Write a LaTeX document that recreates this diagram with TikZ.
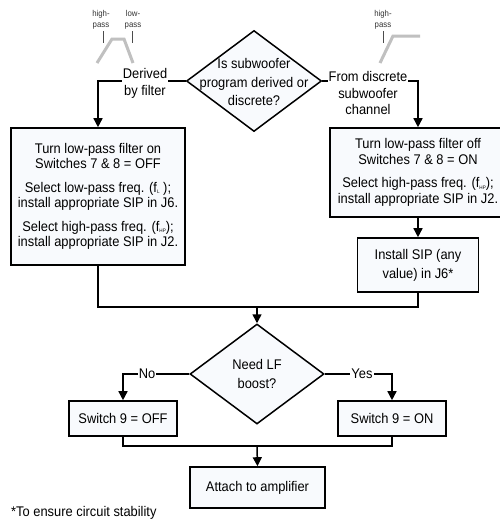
\documentclass[tikz,border=0pt]{standalone}
\usepackage{fontspec}
\setmainfont{Liberation Sans}[FakeStretch=0.92]
\usetikzlibrary{shapes.geometric,arrows.meta}
\definecolor{boxfill}{RGB}{248,250,253}
\definecolor{sketch}{RGB}{192,192,192}
\newcommand{\fsub}[1]{f\raisebox{-1.5pt}{\fontsize{5}{5}\selectfont #1}}

\begin{document}
\begin{tikzpicture}[x=1pt, y=-1pt,
    font=\fontsize{14}{15.5}\selectfont,
    process/.style={rectangle, draw, line width=1.6pt, fill=boxfill, align=center, inner sep=0pt},
    decision/.style={diamond, draw, line width=1.5pt, fill=boxfill, inner sep=0pt,
                     minimum width=135pt, minimum height=101pt},
    qtext/.style={align=center, font=\fontsize{14}{18.5}\selectfont},
    lbl/.style={fill=white, inner sep=1pt, align=center, font=\fontsize{14}{16.5}\selectfont},
    line/.style={line width=1.5pt},
    flow/.style={line width=1.5pt, -{Triangle[width=9pt,length=9pt]}},
    curve/.style={sketch, line width=3pt},
    tick/.style={black!70, line width=0.8pt},
    small/.style={align=center, text=black!80, inner sep=0pt, font=\fontsize{8.5}{11}\selectfont}
]
\fill[white] (0,0) rectangle (500,525);
\useasboundingbox (0,0) rectangle (500,525);
\clip (0,0) rectangle (500,525);

% filter response sketches
\draw[curve] (97,63) -- (112,39) -- (124,39) -- (133,63);
\draw[curve] (380,63) -- (393,36) -- (420,36);
\node[small] (hpleft) at (101,19.5) {high-\\pass};
\node[small] (lpleft) at (133,19.5) {low-\\pass};
\node[small] (hpright) at (383,19.5) {high-\\pass};
\draw[tick] (103,31) -- (103,43);
\draw[tick] (132,31) -- (132,43);
\draw[tick] (383,31) -- (383,43);

% decision on program source
\node[decision] (source) at (254,81) {};
\node[qtext] (sourcetext) at (254,82) {Is subwoofer\\program derived or\\discrete?};

\node[process, minimum width=174pt, minimum height=137pt] (lowpass) at (98,196.5)
    {Turn low-pass filter on\\Switches 7 \& 8 = OFF\\[8pt]
     Select low-pass freq. (\fsub{L} );\\install appropriate SIP in J6.\\[8pt]
     Select high-pass freq. (\fsub{HP});\\install appropriate SIP in J2.};
\node[process, minimum width=176pt, minimum height=89pt] (nolowpass) at (418,172.5)
    {Turn low-pass filter off\\Switches 7 \& 8 = ON\\[8pt]
     Select high-pass freq. (\fsub{HP});\\install appropriate SIP in J2.};
\node[process, minimum width=121pt, minimum height=54pt,
      font=\fontsize{14}{19}\selectfont] (anysip) at (418,265)
    {Install SIP (any\\value) in J6*};

\draw[flow] (source.west) -| (lowpass.north);
\draw[flow] (source.east) -| (nolowpass.north);
\draw[flow] (nolowpass.south) -- (anysip.north);
\node[lbl] (derived) at (145,83.5) {Derived\\by filter};
\node[lbl] (discrete) at (368,93) {From discrete\\subwoofer\\channel};

% merge and boost decision
\coordinate (merge) at (257,307);
\node[decision, minimum width=134pt, minimum height=100pt] (boost) at (257,374) {};
\node[qtext] (boosttext) at (257,374) {Need LF\\boost?};
\draw[line] (lowpass.south) |- (merge);
\draw[line] (anysip.south) |- (merge);
\draw[flow] (merge) -- (boost.north);

\node[process, minimum width=108pt, minimum height=35pt] (off) at (123,418.5) {Switch 9 = OFF};
\node[process, minimum width=108pt, minimum height=35pt] (on) at (392,418.5) {Switch 9 = ON};
\draw[flow] (boost.west) -| (off.north);
\draw[flow] (boost.east) -| (on.north);
\node[lbl] (no) at (147,374) {No};
\node[lbl] (yes) at (362,374) {Yes};

\coordinate (join) at (257,446);
\node[process, minimum width=135pt, minimum height=41pt] (amp) at (257.5,487.5) {Attach to amplifier};
\draw[line] (off.south) |- (join);
\draw[line] (on.south) |- (join);
\draw[flow] (join) -- (amp.north);

\node[anchor=west, inner sep=0pt] (note) at (11,513) {*To ensure circuit stability};

\end{tikzpicture}
\end{document}
